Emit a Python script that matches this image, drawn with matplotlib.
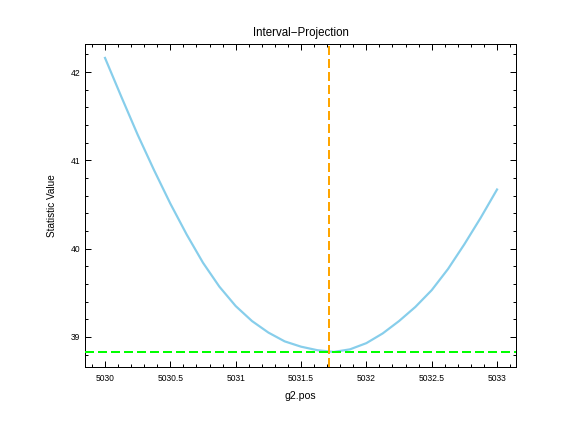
import numpy as np
import matplotlib
matplotlib.use('Agg')
import matplotlib.pyplot as plt
from matplotlib.ticker import MultipleLocator, FormatStrFormatter

plt.rcParams['font.family'] = ['Liberation Sans', 'DejaVu Sans']

# interval-projection curve
g2_pos = [5030.000, 5030.125, 5030.250, 5030.375, 5030.500, 5030.625,
          5030.750, 5030.875, 5031.000, 5031.125, 5031.250, 5031.375,
          5031.500, 5031.625, 5031.750, 5031.875, 5032.000, 5032.125,
          5032.250, 5032.375, 5032.500, 5032.625, 5032.750, 5032.875,
          5033.000]
stat_val = [42.16, 41.72, 41.29, 40.89, 40.51, 40.16,
            39.84, 39.57, 39.35, 39.18, 39.05, 38.95,
            38.89, 38.85, 38.83, 38.86, 38.93, 39.04,
            39.18, 39.34, 39.53, 39.77, 40.05, 40.35,
            40.67]
best_fit = 5031.714
min_stat = 38.83

fig = plt.figure(figsize=(8, 6), dpi=72)
ax = fig.add_axes([0.1476, 0.1505, 0.7482, 0.7475])

ax.plot(g2_pos, stat_val, color='#87CEEB', lw=2.2, zorder=2,
        solid_joinstyle='round')
ax.axvline(best_fit, color='#FFA500', lw=2, ls=(0, (4.5, 2)), zorder=3)
ax.axhline(min_stat, color='#00FF00', lw=2, ls=(0, (4.5, 2)), zorder=3)

ax.set_xlim(5029.847, 5033.145)
ax.set_ylim(38.66, 42.317)

ax.xaxis.set_major_locator(MultipleLocator(0.5))
ax.xaxis.set_minor_locator(MultipleLocator(0.1))
ax.yaxis.set_major_locator(MultipleLocator(1))
ax.yaxis.set_minor_locator(MultipleLocator(0.2))
ax.xaxis.set_major_formatter(FormatStrFormatter('%g'))
ax.yaxis.set_major_formatter(FormatStrFormatter('%g'))
ax.tick_params(which='both', direction='in', top=True, right=True,
               labelsize=8.5, width=1)
ax.tick_params(which='major', length=6)
ax.tick_params(which='minor', length=3)
ax.tick_params(axis='x', which='major', pad=7)
ax.tick_params(axis='y', which='major', pad=5)
for s in ax.spines.values():
    s.set_linewidth(1)

ax.set_title('Interval\u2212Projection', fontsize=11.5, pad=8)
ax.set_xlabel('g2.pos', fontsize=10.5, labelpad=8)
ax.set_ylabel('Statistic Value', fontsize=10, labelpad=13)

fig.savefig('out.png', dpi=72)
